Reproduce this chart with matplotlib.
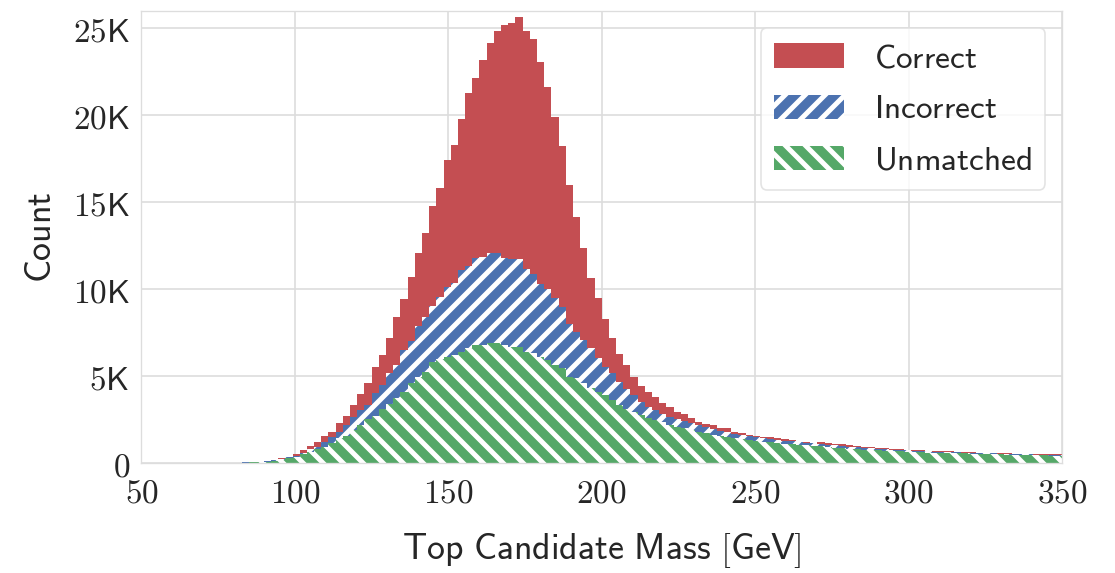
import numpy as np
import matplotlib
matplotlib.use("Agg")
import matplotlib.pyplot as plt
import seaborn as sns

# histogram bin edges (128 bins between 50 and 350 GeV)
edges = np.linspace(50, 350, 129)

correct = [
    0, 0, 0, 0, 0, 0, 0, 0, 0, 0,
    10, 25, 35, 45, 60, 75, 100, 135, 190, 285,
    380, 535, 765, 995, 1240, 1570, 1815, 2330, 2735, 3350,
    3985, 4600, 5550, 6225, 7220, 8425, 9425, 10725, 12070, 13220,
    14790, 15805, 17430, 18275, 19805, 21265, 22160, 23160, 24155, 24825,
    25170, 25305, 25630, 24825, 24400, 23065, 21610, 19900, 18235, 15995,
    14140, 12355, 10630, 9485, 8275, 7185, 6280, 5650, 4940, 4440,
    4115, 3830, 3450, 3220, 2965, 2815, 2585, 2390, 2240, 2200,
    2045, 2010, 1815, 1725, 1625, 1585, 1530, 1495, 1435, 1380,
    1340, 1240, 1240, 1185, 1200, 1150, 1110, 1090, 1030, 990,
    950, 920, 880, 860, 830, 800, 780, 770, 740, 720,
    705, 690, 680, 660, 645, 630, 620, 600, 590, 585,
    570, 560, 555, 540, 530, 525, 515, 510,
]

incorrect = [
    0, 0, 0, 0, 0, 0, 0, 0, 0, 0,
    5, 20, 30, 40, 50, 60, 80, 115, 170, 230,
    345, 435, 575, 805, 955, 1240, 1530, 1815, 2200, 2680,
    3065, 3350, 4025, 4500, 5170, 5650, 6510, 7045, 7890, 8425,
    9060, 9575, 10150, 10380, 11110, 11340, 11780, 11875, 12070, 12070,
    11820, 11740, 11740, 11165, 10860, 10305, 10000, 9485, 9000, 8005,
    7565, 7085, 6610, 6035, 5555, 5170, 4700, 4300, 3900, 3550,
    3250, 3050, 2850, 2680, 2540, 2420, 2300, 2180, 2060, 1960,
    1870, 1780, 1700, 1620, 1560, 1500, 1440, 1390, 1340, 1300,
    1260, 1220, 1180, 1150, 1120, 1080, 1040, 1000, 960, 930,
    900, 870, 840, 815, 790, 770, 750, 730, 710, 690,
    675, 660, 645, 630, 615, 600, 590, 580, 565, 555,
    545, 535, 520, 510, 500, 495, 485, 480,
]

unmatched = [
    0, 0, 0, 0, 0, 0, 0, 0, 0, 0,
    5, 15, 25, 35, 45, 50, 60, 100, 150, 190,
    285, 380, 535, 665, 805, 955, 1150, 1435, 1585, 1915,
    2200, 2530, 2735, 3105, 3410, 3735, 4115, 4600, 4975, 5265,
    5840, 6000, 6090, 6250, 6415, 6610, 6800, 6800, 6895, 6895,
    6800, 6700, 6700, 6415, 6320, 6125, 5935, 5650, 5460, 4975,
    4885, 4600, 4310, 4115, 3925, 3640, 3350, 3150, 2950, 2780,
    2620, 2480, 2350, 2230, 2110, 2010, 1910, 1820, 1730, 1650,
    1580, 1510, 1450, 1390, 1340, 1290, 1240, 1200, 1160, 1120,
    1090, 1060, 1030, 1000, 980, 950, 900, 870, 830, 800,
    780, 760, 740, 720, 700, 690, 670, 650, 640, 620,
    610, 600, 590, 575, 565, 555, 545, 535, 525, 515,
    505, 495, 480, 470, 460, 455, 445, 440,
]

x_ticks = [50, 100, 150, 200, 250, 300, 350]
y_ticks = [0, 5000, 10000, 15000, 20000, 25000]
y_tick_labels = [r"$\mathsf{0}$", r"$5\mathsf{K}$", r"$10\mathsf{K}$",
                 r"$15\mathsf{K}$", r"$20\mathsf{K}$", r"$25\mathsf{K}$"]

series = [
    (r"$\mathsf{Correct}$", correct, "#C44E52", None),
    (r"$\mathsf{Incorrect}$", incorrect, "#4C72B0", "//"),
    (r"$\mathsf{Unmatched}$", unmatched, "#55A868", "\\\\"),
]

sns.set_style("whitegrid")
plt.rcParams["mathtext.fontset"] = "cm"
plt.rcParams["hatch.linewidth"] = 3.0

fig = plt.figure(figsize=(1115 / 120, 573 / 120), dpi=120)
ax = fig.add_axes([0.1269, 0.1914, 0.8255, 0.7894])

centers = (edges[:-1] + edges[1:]) / 2
for label, counts, color, hatch in series:
    ax.hist(centers, bins=edges, weights=counts, histtype="bar", rwidth=1.0,
            color=color, edgecolor="white", linewidth=0, hatch=hatch,
            label=label)

ax.set_xlim(50, 350)
ax.set_ylim(0, 26000)
ax.set_xticks(x_ticks)
ax.set_xticklabels([rf"${t}$" for t in x_ticks])
ax.set_yticks(y_ticks)
ax.set_yticklabels(y_tick_labels)
ax.tick_params(axis="x", labelsize=20, pad=8, length=0)
ax.tick_params(axis="y", labelsize=20, pad=7, length=0)
ax.grid(True, color="#dddddd", linewidth=1.0)
ax.set_axisbelow(True)
for sp in ax.spines.values():
    sp.set_color("#dddddd")

ax.set_xlabel(r"$\mathsf{Top\ Candidate\ Mass\ [GeV]}$", fontsize=21.5, labelpad=13)
ax.set_ylabel(r"$\mathsf{Count}$", fontsize=21.5, labelpad=9)

leg = ax.legend(loc="upper right", fontsize=20, frameon=True, fancybox=True,
                handlelength=2.1, handleheight=0.75, handletextpad=0.9,
                labelspacing=0.55, borderpad=0.4)
leg.get_frame().set_edgecolor("#dddddd")

fig.savefig("out.png", dpi=120)
